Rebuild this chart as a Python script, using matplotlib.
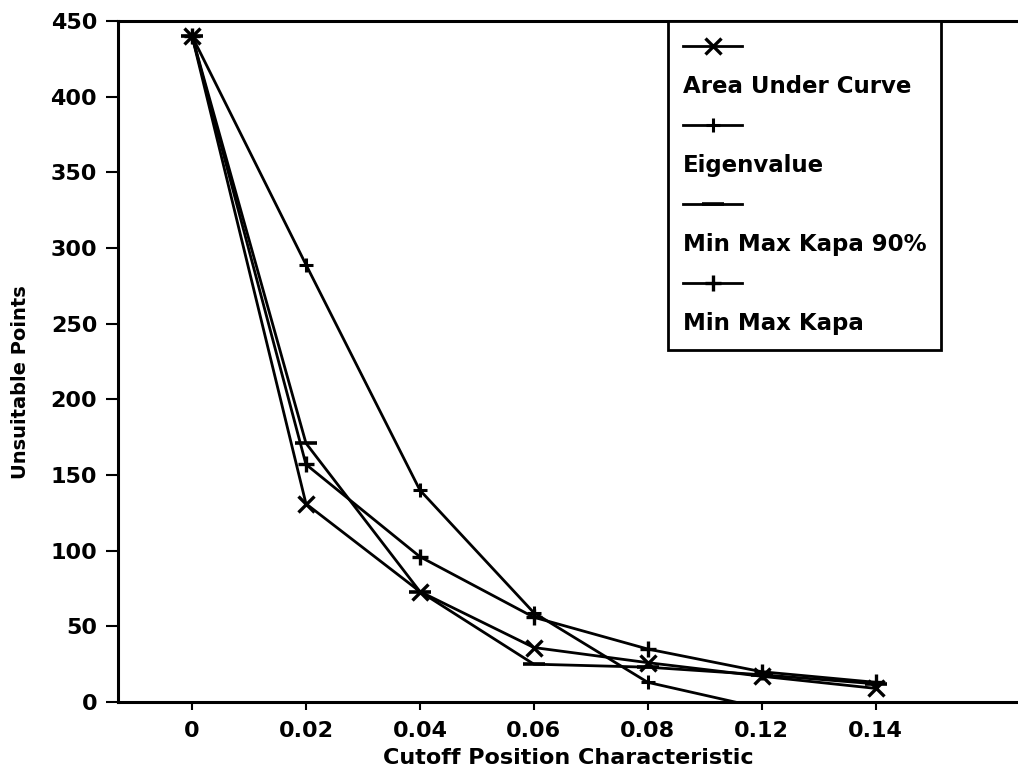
import matplotlib
matplotlib.use("Agg")
import matplotlib.pyplot as plt
from matplotlib.lines import Line2D

# data
cutoffs = ["0", "0.02", "0.04", "0.06", "0.08", "0.12", "0.14"]
area_under_curve = [440, 131, 73, 36, 26, 17, 9]
eigenvalue = [440, 289, 140, 59, 13, -4, -4]
min_max_kapa_90 = [440, 171, 73, 25, 23, 18, 12]
min_max_kapa = [440, 157, 96, 56, 35, 20, 13]
yticks = [0, 50, 100, 150, 200, 250, 300, 350, 400, 450]

plt.rcParams['font.family'] = ['DejaVu Sans']

fig = plt.figure(figsize=(10.18, 7.8), dpi=100)
ax = fig.add_axes([118 / 1018, 78 / 780, 900 / 1018, 681 / 780])

x = list(range(len(cutoffs)))
lw = 2.0
h_auc, = ax.plot(x, area_under_curve, color="black", lw=lw, marker="x", ms=11, mew=2.4)
h_eig, = ax.plot(x, eigenvalue, color="black", lw=lw, marker="+", ms=10, mew=2.2)
h_90, = ax.plot(x, min_max_kapa_90, color="black", lw=lw, marker="_", ms=16, mew=2.6)
h_mmk, = ax.plot(x, min_max_kapa, color="black", lw=lw, marker="+", ms=12, mew=2.4)

ax.set_xlim(-0.65, 7.25)
ax.set_ylim(0, 450)
ax.set_xticks(x)
ax.set_xticklabels(cutoffs)
ax.set_yticks(yticks)
ax.tick_params(axis="y", direction="out", length=9, width=1.5, labelsize=16, pad=6)
ax.tick_params(axis="x", direction="out", length=6, width=1.5, labelsize=16, pad=8)
for lab in ax.get_xticklabels() + ax.get_yticklabels():
    lab.set_fontweight("bold")

ax.spines["right"].set_visible(False)
for s in ["left", "bottom", "top"]:
    ax.spines[s].set_linewidth(2.2)

ax.set_xlabel("Cutoff Position Characteristic", fontsize=16, fontweight="bold")
ax.xaxis.set_label_coords(0.5, -0.068)
ax.set_ylabel("Unsuitable Points", fontsize=14, fontweight="bold")
ax.yaxis.set_label_coords(-0.098, 0.47)

# legend: handle on one row, its label on the row beneath
blank = Line2D([], [], color="none")
handles = [h_auc, blank, h_eig, blank, h_90, blank, h_mmk, blank]
labels = ["", "Area Under Curve", "", "Eigenvalue", "", "Min Max Kapa 90%", "", "Min Max Kapa"]
leg = ax.legend(handles, labels, loc="upper left", bbox_to_anchor=(0.611, 1.0),
                fontsize=16.5, handlelength=2.6, handletextpad=-2.6,
                labelspacing=0.72, borderpad=0.65, borderaxespad=0.0,
                fancybox=False, framealpha=1, edgecolor="black")
leg.get_frame().set_linewidth(2.0)
for t in leg.get_texts():
    t.set_fontweight("bold")

fig.savefig("out.png", dpi=100)
